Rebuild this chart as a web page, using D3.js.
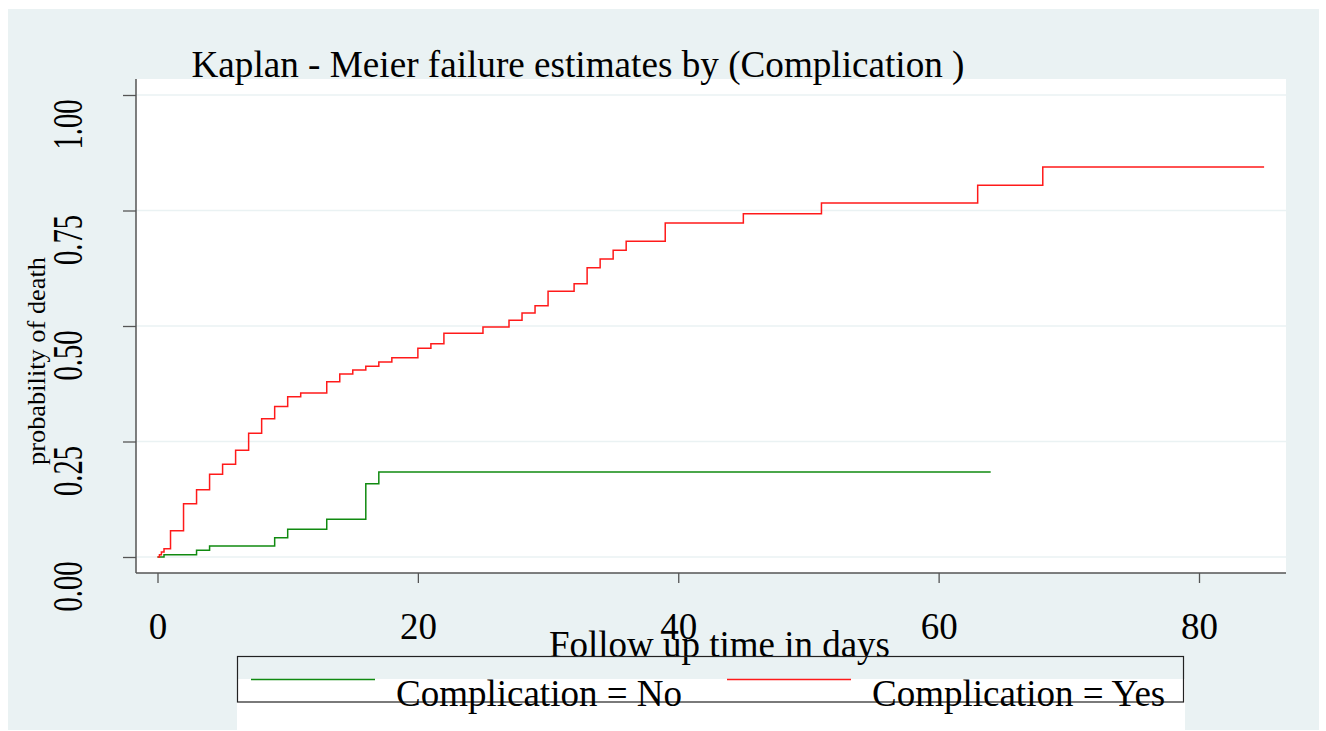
<!DOCTYPE html>
<html>
<head>
<meta charset="utf-8">
<script src="https://cdn.jsdelivr.net/npm/d3@7"></script>
<style>
  body { margin: 0; background: #fff; }
  svg text { font-family: "Liberation Serif", "Times New Roman", serif; fill: #000; }
</style>
</head>
<body>
<script>
// Kaplan-Meier failure estimates
const noTimes = [0, 0.5, 3, 4, 9, 10, 13, 16, 17];
const noValues = [0, 0.005, 0.0145, 0.0238, 0.0418, 0.06, 0.0816, 0.1587, 0.184];
const noEnd = 64;

const yesTimes = [0, 0.15, 0.3, 0.5, 1, 2, 3, 4, 5, 6, 7, 8, 9, 10, 11, 13, 14, 15, 16, 17, 18,
    20, 21, 22, 25, 27, 28, 29, 30, 32, 33, 34, 35, 36, 39, 45, 51, 63, 68];
const yesValues = [0, 0.005, 0.011, 0.018, 0.057, 0.1154, 0.1457, 0.179, 0.2006, 0.231, 0.2677,
    0.2994, 0.326, 0.347, 0.355, 0.3795, 0.396, 0.4048, 0.4127, 0.422, 0.4314, 0.4517, 0.4617,
    0.4842, 0.4978, 0.5123, 0.5281, 0.544, 0.5751, 0.5916, 0.6263, 0.645, 0.6638, 0.6833,
    0.7229, 0.7431, 0.7662, 0.8045, 0.844];
const yesEnd = 85;

const xTicks = [0, 20, 40, 60, 80];
const yTicks = [0, 0.25, 0.5, 0.75, 1];
const legendLabels = ["Complication = No", "Complication = Yes"];

const bg = "#eaf2f3";
const plot = { left: 136, right: 1286, top: 79, bottom: 573 };

const svg = d3.select("body").append("svg")
    .attr("width", 1326)
    .attr("height", 731);

// outer background + plot region
svg.append("rect").attr("x", 8).attr("y", 9).attr("width", 1311).attr("height", 721).attr("fill", bg);
svg.append("rect")
    .attr("x", plot.left).attr("y", plot.top)
    .attr("width", plot.right - plot.left).attr("height", plot.bottom - plot.top)
    .attr("fill", "#fff");

const x = d3.scaleLinear().domain([0, 80]).range([157.5, 1199]);
const y = d3.scaleLinear().domain([0, 1]).range([557, 95]);

// gridlines
svg.append("g").selectAll("line")
    .data(yTicks)
    .enter()
    .append("line")
    .attr("x1", plot.left).attr("x2", plot.right)
    .attr("y1", d => y(d)).attr("y2", d => y(d))
    .attr("stroke", bg)
    .attr("stroke-width", 1.5);

// y axis
const yAxis = svg.append("g")
    .attr("transform", `translate(${plot.left},0)`)
    .call(d3.axisLeft(y).tickValues(yTicks).tickSize(13).tickFormat(d3.format(".2f")));
yAxis.select(".domain").remove();
yAxis.selectAll("line").attr("stroke", "#555").attr("stroke-width", 1.3);
yAxis.selectAll("text")
    .attr("x", null).attr("dy", null)
    .attr("transform", "translate(-54,4) rotate(-90)")
    .attr("text-anchor", "end")
    .attr("font-family", "Liberation Serif")
    .attr("font-size", 42)
    .attr("textLength", 50)
    .attr("lengthAdjust", "spacingAndGlyphs");

// x axis
const xAxis = svg.append("g")
    .attr("transform", `translate(0,${plot.bottom})`)
    .call(d3.axisBottom(x).tickValues(xTicks).tickSize(10).tickFormat(d3.format("d")));
xAxis.select(".domain").remove();
xAxis.selectAll("line").attr("stroke", "#555").attr("stroke-width", 1.3);
xAxis.selectAll("text")
    .attr("y", 66).attr("dy", null)
    .attr("font-family", "Liberation Serif")
    .attr("font-size", 37);

// axis lines
svg.append("line")
    .attr("x1", plot.left).attr("x2", plot.left)
    .attr("y1", plot.top).attr("y2", plot.bottom)
    .attr("stroke", "#555").attr("stroke-width", 1.5);
svg.append("line")
    .attr("x1", plot.left).attr("x2", plot.right)
    .attr("y1", plot.bottom).attr("y2", plot.bottom)
    .attr("stroke", "#555").attr("stroke-width", 1.5);

// step curves
function stepData(times, values, end) {
    const pts = times.map((t, i) => ({ t: t, v: values[i] }));
    pts.push({ t: end, v: values[values.length - 1] });
    return pts;
}
const step = d3.line().curve(d3.curveStepAfter).x(d => x(d.t)).y(d => y(d.v));

svg.append("path")
    .datum(stepData(noTimes, noValues, noEnd))
    .attr("fill", "none")
    .attr("stroke", "#108a10")
    .attr("stroke-width", 1.5)
    .attr("d", step);

svg.append("path")
    .datum(stepData(yesTimes, yesValues, yesEnd))
    .attr("fill", "none")
    .attr("stroke", "#ff1a1a")
    .attr("stroke-width", 1.5)
    .attr("d", step);

// titles
svg.append("text")
    .attr("x", 191.5).attr("y", 77)
    .attr("font-size", 37)
    .attr("textLength", 773)
    .attr("lengthAdjust", "spacingAndGlyphs")
    .text("Kaplan - Meier failure estimates by (Complication )");

svg.append("text")
    .attr("x", 549).attr("y", 657)
    .attr("font-size", 37)
    .attr("textLength", 341)
    .attr("lengthAdjust", "spacingAndGlyphs")
    .text("Follow up time in days");

svg.append("text")
    .attr("transform", "translate(45,465) rotate(-90)")
    .attr("font-size", 25)
    .attr("textLength", 208)
    .attr("lengthAdjust", "spacingAndGlyphs")
    .text("probability of death");

// legend
svg.append("rect")
    .attr("x", 237).attr("y", 679).attr("width", 948).attr("height", 51)
    .attr("fill", "#fff");
svg.append("rect")
    .attr("x", 237.5).attr("y", 656.5).attr("width", 946).attr("height", 45.5)
    .attr("fill", "none")
    .attr("stroke", "#222")
    .attr("stroke-width", 1.2);

const legendItems = [
    { label: legendLabels[0], color: "#108a10", x1: 251, x2: 375, tx: 396 },
    { label: legendLabels[1], color: "#ff1a1a", x1: 727, x2: 851, tx: 872 }
];
const leg = svg.append("g").selectAll("g")
    .data(legendItems)
    .enter()
    .append("g");
leg.append("line")
    .attr("x1", d => d.x1).attr("x2", d => d.x2)
    .attr("y1", 679.5).attr("y2", 679.5)
    .attr("stroke", d => d.color)
    .attr("stroke-width", 1.5);
leg.append("text")
    .attr("x", d => d.tx).attr("y", 706)
    .attr("font-size", 37)
    .text(d => d.label);
</script>
</body>
</html>
